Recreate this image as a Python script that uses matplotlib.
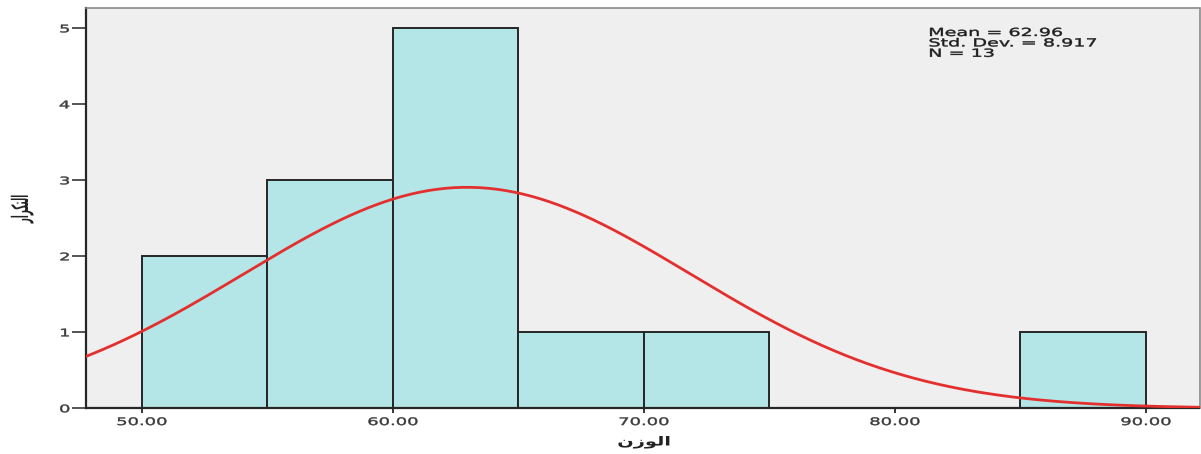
import numpy as np
import matplotlib
matplotlib.use("Agg")
import matplotlib.pyplot as plt
from matplotlib.patheffects import AbstractPathEffect
from matplotlib.transforms import Affine2D

# Histogram bins (left edges, width 5) and their counts
bin_lefts = [50, 55, 60, 65, 70, 75, 80, 85]
counts = [2, 3, 5, 1, 1, 0, 0, 1]
bin_width = 5

# Summary statistics shown in the box
mean = 62.96
std_dev = 8.917
n = 13

x_ticks = [50, 60, 70, 80, 90]
x_tick_labels = ["50.00", "60.00", "70.00", "80.00", "90.00"]
y_ticks = [0, 1, 2, 3, 4, 5]

# Arabic labels written in shaped presentation forms, visual order
x_label = "\uFEE5\uFEAF\uFEEE\uFEDF\uFE8D"              # الوزن
y_label = "\uFEAD\uFE8D\uFEAE\uFEDC\uFE98\uFEDF\uFE8D"  # التكرار


class Stretch(AbstractPathEffect):
    """Scale glyph outlines in text-local coordinates about an anchor,
    optionally thickening them with a thin outline of the fill colour."""

    def __init__(self, sx=1.0, sy=1.0, anchor="center", stroke=0.0):
        super().__init__()
        self.sx, self.sy, self.anchor, self.stroke = sx, sy, anchor, stroke

    def draw_path(self, renderer, gc, tpath, affine, rgbFace=None):
        ext = tpath.get_extents()
        ax0 = {"left": ext.x0, "center": 0.5 * (ext.x0 + ext.x1), "right": ext.x1}[self.anchor]
        ay0 = 0.5 * (ext.y0 + ext.y1)
        pre = Affine2D().translate(-ax0, -ay0).scale(self.sx, self.sy).translate(ax0, ay0)
        gc0 = renderer.new_gc()
        gc0.copy_properties(gc)
        if self.stroke > 0 and rgbFace is not None:
            gc0.set_linewidth(self.stroke)
            gc0.set_foreground(rgbFace)
        renderer.draw_path(gc0, tpath, pre + affine, rgbFace)
        gc0.restore()


SX = 1.72
FONT = ["DejaVu Sans"]

fig = plt.figure(figsize=(12.01, 4.54), dpi=100)
ax = fig.add_axes([85.5 / 1201, 45.7 / 454, 1114 / 1201, 400.8 / 454])
ax.set_facecolor("#EFEFEF")

for left, c in zip(bin_lefts, counts):
    if c > 0:
        ax.bar(left, c, width=bin_width, align="edge", color="#B4E6E8",
               edgecolor="#262626", linewidth=1.4, zorder=2)

xs = np.linspace(47.0, 93.0, 400)
ys = n * bin_width / (std_dev * np.sqrt(2 * np.pi)) * np.exp(-0.5 * ((xs - mean) / std_dev) ** 2)
ax.plot(xs, ys, color="#E3302F", linewidth=2.0, zorder=3)

ax.set_xlim(47.76, 92.14)
ax.set_ylim(0, 5.274)
ax.set_xticks(x_ticks)
ax.set_xticklabels(x_tick_labels)
ax.set_yticks(y_ticks)

ax.tick_params(axis="x", direction="out", length=3.8, width=1.3, color="#262626",
               pad=2.5, labelsize=7.5, labelcolor="#3A3A3A")
ax.tick_params(axis="y", direction="out", length=9.8, width=1.1, color="#262626",
               pad=1.5, labelsize=7.5, labelcolor="#3A3A3A")

for side in ["left", "bottom"]:
    ax.spines[side].set_color("#262626")
    ax.spines[side].set_linewidth(1.6)
for side in ["top", "right"]:
    ax.spines[side].set_color("#8A8A8A")
    ax.spines[side].set_linewidth(1.2)

stats_lines = [f"Mean = {mean:.2f}", f"Std. Dev. = {std_dev:.3f}", f"N = {n}"]
for i, line in enumerate(stats_lines):
    fig.text(929 / 1201, 1 - (36 + 10.4 * i) / 454, line, ha="left", va="baseline",
             fontsize=8, family=FONT, color="#1E1E1E",
             path_effects=[Stretch(SX, 1.0, "left", stroke=0.3)])

fig.text(644 / 1201, 1 - 442 / 454, x_label, ha="center", va="center",
         fontsize=9, fontweight="bold", family=FONT, color="#222222",
         path_effects=[Stretch(1.55, 1.0, "center")])
fig.text(22 / 1201, 1 - 209 / 454, y_label, ha="center", va="center", rotation=90,
         fontsize=6.3, fontweight="bold", family=FONT, color="#222222",
         path_effects=[Stretch(1.0, 2.6, "center")])

fig.canvas.draw()
for lbl in ax.get_xticklabels():
    lbl.set_fontfamily(FONT)
    lbl.set_path_effects([Stretch(SX, 1.0, "center", stroke=0.3)])
for lbl in ax.get_yticklabels():
    lbl.set_fontfamily(FONT)
    lbl.set_path_effects([Stretch(SX, 1.0, "right", stroke=0.3)])

fig.savefig("out.png", dpi=100, facecolor="white")
